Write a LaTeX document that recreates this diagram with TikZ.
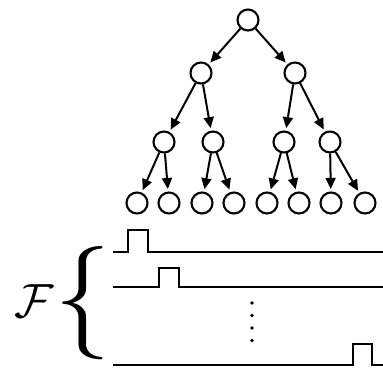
\documentclass[tikz,border=0pt]{standalone}
\usetikzlibrary{arrows.meta}
\begin{document}
\begin{tikzpicture}[x=1pt,y=-1pt,
  tnode/.style={circle,draw,line width=2.1pt,minimum size=21pt,inner sep=0pt},
  edge/.style={line width=2pt,-{Triangle[length=11pt,width=10pt]},shorten >=2.5pt},
  sig/.style={line width=2.1pt},
  vdot/.style={circle,fill,inner sep=0pt,minimum size=3.6pt}]
\useasboundingbox (0,0) rectangle (383,368);
% tree
\node[tnode] (r) at (248,20) {};
\node[tnode] (a) at (201,73) {};
\node[tnode] (b) at (295,73) {};
\node[tnode] (a1) at (164,142) {};
\node[tnode] (a2) at (213,142) {};
\node[tnode] (b1) at (284,142) {};
\node[tnode] (b2) at (330,142) {};
\node[tnode] (l1) at (137,203) {};
\node[tnode] (l2) at (169,203) {};
\node[tnode] (l3) at (202,203) {};
\node[tnode] (l4) at (234,203) {};
\node[tnode] (l5) at (267,203) {};
\node[tnode] (l6) at (299,203) {};
\node[tnode] (l7) at (331,203) {};
\node[tnode] (l8) at (365,203) {};
\draw[edge] (r) -- (a);
\draw[edge] (r) -- (b);
\draw[edge] (a) -- (a1);
\draw[edge] (a) -- (a2);
\draw[edge] (b) -- (b1);
\draw[edge] (b) -- (b2);
\draw[edge] (a1) -- (l1);
\draw[edge] (a1) -- (l2);
\draw[edge] (a2) -- (l3);
\draw[edge] (a2) -- (l4);
\draw[edge] (b1) -- (l5);
\draw[edge] (b1) -- (l6);
\draw[edge] (b2) -- (l7);
\draw[edge] (b2) -- (l8);
% signals
\draw[sig] (113,252) -- (128,252) -- (128,230) -- (148,230) -- (148,252) -- (383,252);
\draw[sig] (113,287) -- (159,287) -- (159,268) -- (179,268) -- (179,287) -- (383,287);
\draw[sig] (113,365) -- (353,365) -- (353,344) -- (372,344) -- (372,365) -- (383,365);
% dots
\node[vdot] (d1) at (252,303) {};
\node[vdot] (d2) at (252,315.5) {};
\node[vdot] (d3) at (252,328) {};
\node[vdot] (d4) at (252,340.5) {};
% brace and label
\node[inner sep=0pt] (br) at (83,303) {\resizebox{!}{85pt}{$\{$}};
\node[inner sep=0pt] (F) at (34,301) {\scalebox{4.8}{$\mathcal{F}$}};
\end{tikzpicture}
\end{document}
